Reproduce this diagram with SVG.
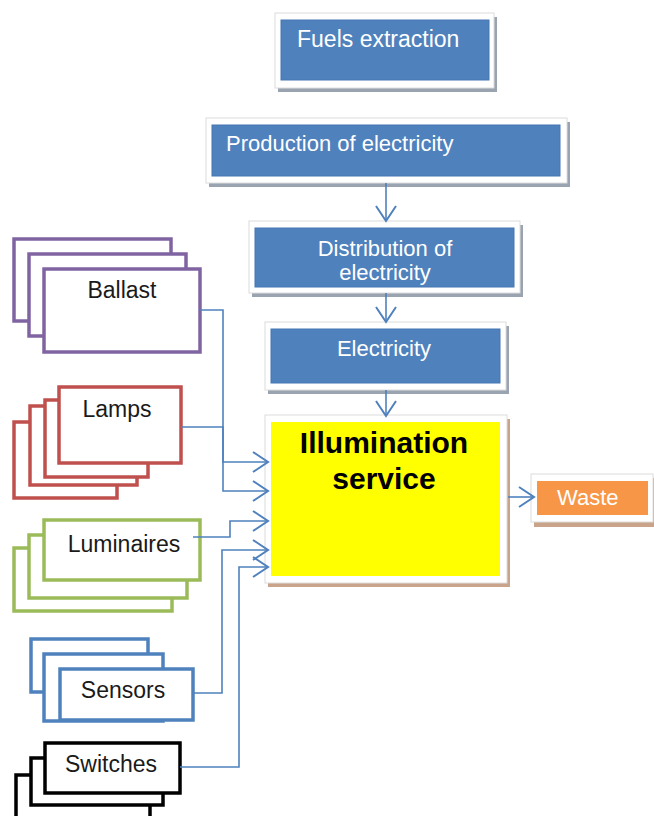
<svg xmlns="http://www.w3.org/2000/svg" width="654" height="816" viewBox="0 0 654 816">
<defs>
<marker id="arr" markerUnits="userSpaceOnUse" markerWidth="20" markerHeight="24" viewBox="0 0 20 24" refX="16" refY="12" orient="auto">
<path d="M1,2 L16,12 L1,22" fill="none" stroke="#4f81bd" stroke-width="2"/>
</marker>
</defs>
<style>
.frame{fill:#ffffff;stroke:#dcdcdc;stroke-width:1}
.sh{fill:#9aa3b0}
.shb{fill:#c9a48a}
.blue{fill:#4f81bd;stroke:#4677b3;stroke-width:1}
.wt{font-family:"Liberation Sans",Arial,sans-serif;font-size:22px;fill:#ffffff}
.bt{font-family:"Liberation Sans",Arial,sans-serif;font-size:23px;fill:#1a1a1a}
.c{text-anchor:middle}
.con{fill:none;stroke:#4f81bd;stroke-width:1.6}
.st{fill:#ffffff;stroke-width:3.5}
</style>
<rect width="654" height="816" fill="#ffffff"/>

<g id="fuels">
<rect class="sh" x="278" y="17" width="219" height="75"/>
<rect class="frame" x="275" y="13" width="219" height="75"/>
<rect class="blue" x="281" y="20" width="208" height="60"/>
<text class="wt" x="297" y="47" style="font-size:23px">Fuels extraction</text>
</g>

<g id="production">
<rect class="sh" x="209" y="122" width="361" height="65"/>
<rect class="frame" x="206" y="118" width="361" height="65"/>
<rect class="blue" x="212" y="125" width="348" height="51"/>
<text class="wt" x="226" y="151">Production of electricity</text>
</g>

<g id="distribution">
<rect class="sh" x="252" y="225" width="271" height="72"/>
<rect class="frame" x="249" y="221" width="271" height="72"/>
<rect class="blue" x="255" y="228" width="259" height="59"/>
<text class="wt c" x="385" y="256">Distribution of</text>
<text class="wt c" x="385" y="280">electricity</text>
</g>

<g id="electricity">
<rect class="sh" x="268" y="326" width="241" height="68"/>
<rect class="frame" x="265" y="322" width="241" height="68"/>
<rect class="blue" x="271" y="329" width="229" height="54"/>
<text class="wt c" x="384" y="356">Electricity</text>
</g>

<g id="illumination">
<rect class="shb" x="268" y="419" width="242" height="168"/>
<rect class="frame" x="265" y="415" width="242" height="168"/>
<rect x="271" y="422" width="229" height="154" fill="#ffff00"/>
<text class="c" x="384" y="453" font-family="Liberation Sans,Arial,sans-serif" font-size="30" font-weight="bold" fill="#000">Illumination</text>
<text class="c" x="384" y="489" font-family="Liberation Sans,Arial,sans-serif" font-size="30" font-weight="bold" fill="#000">service</text>
</g>

<g id="waste">
<rect class="shb" x="534" y="478" width="120" height="49"/>
<rect class="frame" x="531" y="474" width="122" height="48"/>
<rect x="537" y="481" width="111" height="34" fill="#f79646"/>
<text class="wt" x="557" y="505">Waste</text>
</g>

<g id="ballast" stroke="#8064a2">
<rect class="st" x="14" y="239" width="157" height="82"/>
<rect class="st" x="29" y="254" width="157" height="82"/>
<rect class="st" x="44" y="269" width="156" height="83"/>
<text class="bt c" x="122" y="298" stroke="none">Ballast</text>
</g>

<g id="lamps" stroke="#c0504d">
<rect class="st" x="14" y="422" width="103" height="76"/>
<rect class="st" x="30" y="406" width="107" height="79"/>
<rect class="st" x="45" y="400" width="103" height="77"/>
<rect class="st" x="59" y="387" width="122" height="76"/>
<text class="bt c" x="117" y="417" stroke="none">Lamps</text>
</g>

<g id="luminaires" stroke="#9bbb59">
<rect class="st" x="14" y="548" width="158" height="63"/>
<rect class="st" x="29" y="535" width="158" height="63"/>
<rect class="st" x="44" y="520" width="156" height="60"/>
<text class="bt c" x="124" y="552" stroke="none">Luminaires</text>
</g>

<g id="sensors" stroke="#4f81bd">
<rect class="st" x="31" y="639" width="117" height="53"/>
<rect class="st" x="44" y="654" width="119" height="67"/>
<rect class="st" x="60" y="669" width="133" height="51"/>
<text class="bt c" x="123" y="698" stroke="none">Sensors</text>
</g>

<g id="switches" stroke="#000000">
<rect class="st" x="16" y="775" width="134" height="50"/>
<rect class="st" x="31" y="758" width="132" height="47"/>
<rect class="st" x="45" y="743" width="135" height="50"/>
<text class="bt c" x="111" y="772" stroke="none">Switches</text>
</g>

<g id="connectors">
<path class="con" d="M386,183 V221" marker-end="url(#arr)"/>
<path class="con" d="M386,293 V322" marker-end="url(#arr)"/>
<path class="con" d="M386,390 V416" marker-end="url(#arr)"/>
<path class="con" d="M508,497 H534" marker-end="url(#arr)"/>
<path class="con" d="M200,310 H223 V462 H268" marker-end="url(#arr)"/>
<path class="con" d="M181,427 H223 V491 H268" marker-end="url(#arr)"/>
<path class="con" d="M193,537 H230 V521 H268" marker-end="url(#arr)"/>
<path class="con" d="M193,693 H222 V550 H268" marker-end="url(#arr)"/>
<path class="con" d="M180,767 H239 V567 H268" marker-end="url(#arr)"/>
</g>
</svg>
